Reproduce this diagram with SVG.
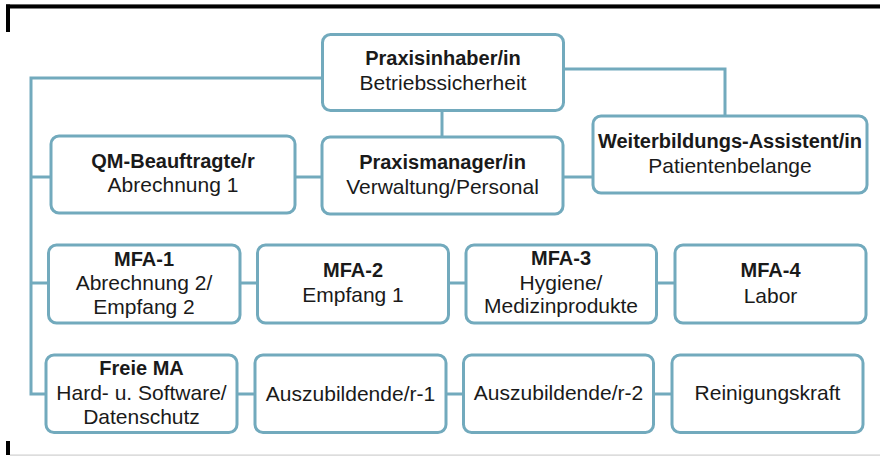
<svg xmlns="http://www.w3.org/2000/svg" width="880" height="456" viewBox="0 0 880 456">
<style>
.box{fill:#fff;stroke:#72aabd;stroke-width:3}
.con{fill:none;stroke:#72aabd;stroke-width:3}
text{font-family:"Liberation Sans",Arial,sans-serif;fill:#1a1a1a;text-anchor:middle}
.b{font-weight:bold;font-size:20px}
.r{font-size:21px}
</style>
<rect x="0" y="0" width="880" height="456" fill="#fff"/>
<g id="frame">
<rect x="6" y="4.5" width="874" height="4" fill="#000"/>
<rect x="6" y="4" width="874" height="1" fill="#666"/>
<rect x="6" y="4.5" width="4" height="27.5" fill="#000"/>
<rect x="6" y="441" width="4" height="14" fill="#000"/>
<rect x="10" y="454.5" width="870" height="1.2" fill="#cfcfcf"/>
</g>
<g id="connectors">
<path class="con" d="M322,78 H31 V394 H46"/>
<path class="con" d="M31,177 H51"/>
<path class="con" d="M31,283 H48.5"/>
<path class="con" d="M295,177 H322"/>
<path class="con" d="M442,110 V137"/>
<path class="con" d="M564,69 H725 V116"/>
<path class="con" d="M563,177 H593"/>
<path class="con" d="M240,283 H257.5 M448,283 H466 M656.5,283 H675"/>
<path class="con" d="M237,394 H255 M446,394 H463.5 M653.5,394 H672"/>
</g>
<g id="praxisinhaber">
<rect class="box" x="322.5" y="34.5" width="241" height="76" rx="8"/>
<text class="b" x="443" y="64.5">Praxisinhaber/in</text>
<text class="r" x="443" y="90">Betriebssicherheit</text>
</g>
<g id="qm">
<rect class="box" x="51" y="136" width="244" height="77" rx="8"/>
<text class="b" x="173" y="167.5">QM-Beauftragte/r</text>
<text class="r" x="173" y="192">Abrechnung 1</text>
</g>
<g id="praxismanager">
<rect class="box" x="322" y="137" width="241" height="77" rx="8"/>
<text class="b" x="442.5" y="168.5">Praxismanager/in</text>
<text class="r" x="442.5" y="193.5">Verwaltung/Personal</text>
</g>
<g id="weiterbildung">
<rect class="box" x="593" y="116" width="274" height="77" rx="8"/>
<text class="b" x="730" y="147.5">Weiterbildungs-Assistent/in</text>
<text class="r" x="730" y="172.5">Patientenbelange</text>
</g>
<g id="mfa1">
<rect class="box" x="48.5" y="245" width="191.5" height="78" rx="8"/>
<text class="b" x="144" y="265.5">MFA-1</text>
<text class="r" x="144" y="290">Abrechnung 2/</text>
<text class="r" x="144" y="314">Empfang 2</text>
</g>
<g id="mfa2">
<rect class="box" x="257.5" y="245" width="191" height="78" rx="8"/>
<text class="b" x="353" y="276.5">MFA-2</text>
<text class="r" x="353" y="301.5">Empfang 1</text>
</g>
<g id="mfa3">
<rect class="box" x="466" y="245" width="190.5" height="78" rx="8"/>
<text class="b" x="561" y="265">MFA-3</text>
<text class="r" x="561" y="290">Hygiene/</text>
<text class="r" x="561" y="313">Medizinprodukte</text>
</g>
<g id="mfa4">
<rect class="box" x="675" y="245" width="191" height="78" rx="8"/>
<text class="b" x="770.5" y="276.5">MFA-4</text>
<text class="r" x="770.5" y="302.5">Labor</text>
</g>
<g id="freiema">
<rect class="box" x="46" y="355" width="191" height="77.5" rx="8"/>
<text class="b" x="141.5" y="375">Freie MA</text>
<text class="r" x="141.5" y="400">Hard- u. Software/</text>
<text class="r" x="141.5" y="423.5">Datenschutz</text>
</g>
<g id="azubi1">
<rect class="box" x="255" y="355" width="191" height="77.5" rx="8"/>
<text class="r" x="350.5" y="400.5">Auszubildende/r-1</text>
</g>
<g id="azubi2">
<rect class="box" x="463.5" y="355" width="190" height="77.5" rx="8"/>
<text class="r" x="558.5" y="400">Auszubildende/r-2</text>
</g>
<g id="reinigung">
<rect class="box" x="672" y="355" width="191" height="77.5" rx="8"/>
<text class="r" x="767.5" y="400">Reinigungskraft</text>
</g>
</svg>
